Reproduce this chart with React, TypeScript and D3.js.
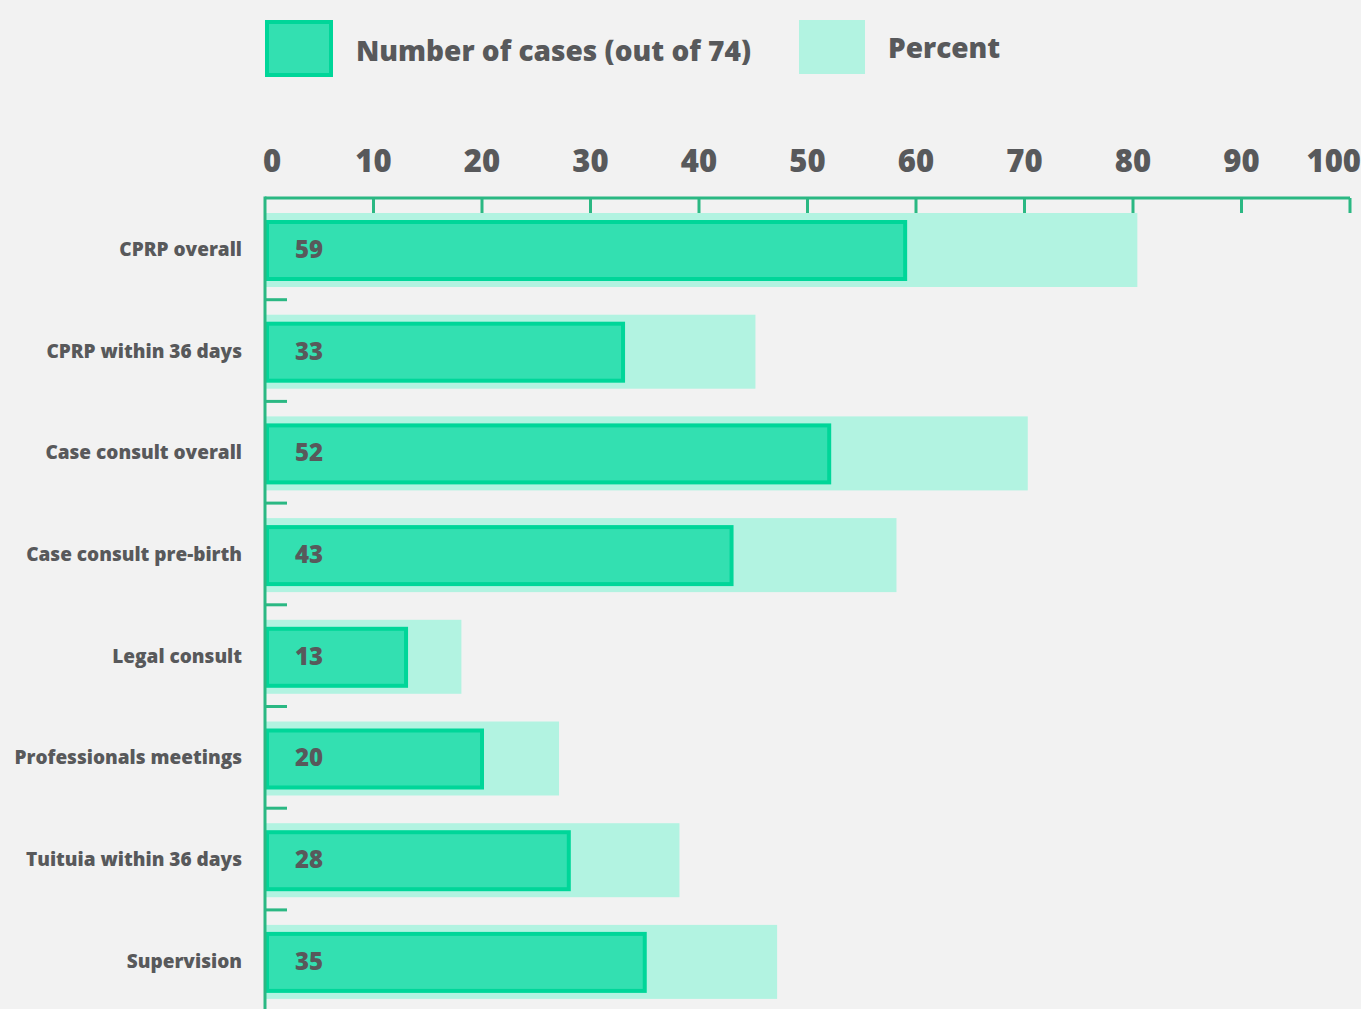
import React, { useEffect } from "react";
import * as d3 from "d3";

const categories = [
  "CPRP overall",
  "CPRP within 36 days",
  "Case consult overall",
  "Case consult pre-birth",
  "Legal consult",
  "Professionals meetings",
  "Tuituia within 36 days",
  "Supervision",
];
const caseCounts = [59, 33, 52, 43, 13, 20, 28, 35];
const percents = [80.4, 45.2, 70.3, 58.2, 18.1, 27.1, 38.2, 47.2];
const tickValues = [0, 10, 20, 30, 40, 50, 60, 70, 80, 90, 100];
const legendLabels = ["Number of cases (out of 74)", "Percent"];

const COLORS = {
  bg: "#f2f2f2",
  axis: "#2bb883",
  countFill: "#33e0b1",
  countStroke: "#00d699",
  percent: "#b2f3e1",
  text: "#58595b",
};

const FONT = "'Open Sans', Lato, sans-serif";

const App = () => {
  useEffect(() => {
    document.body.style.margin = "0";
    document.body.style.background = COLORS.bg;
  }, []);

  const width = 1361;
  const height = 1009;
  const margin = { top: 198, left: 265, right: 11 };

  const x = d3.scaleLinear().domain([0, 100]).range([margin.left, width - margin.right]);
  const y = d3
    .scaleBand<string>()
    .domain(categories)
    .range([margin.top, margin.top + 101.7 * categories.length]);
  const step = y.step();

  return (
    <svg width={width} height={height} style={{ display: "block", background: COLORS.bg }}>
      {/* legend */}
      <g fontFamily={FONT} fontWeight={800} fill={COLORS.text}>
        <rect x={267} y={22} width={64} height={53} fill={COLORS.countFill} stroke={COLORS.countStroke} strokeWidth={4} />
        <text x={356} y={61} fontSize={28}>{legendLabels[0]}</text>
        <rect x={799} y={20} width={66} height={54} fill={COLORS.percent} />
        <text x={888} y={58} fontSize={28}>{legendLabels[1]}</text>
      </g>

      {/* bars */}
      {categories.map((c, i) => {
        const top = y(c) as number;
        return (
          <g key={c}>
            <rect x={x(0)} y={top + 15} width={x(percents[i]) - x(0)} height={74} fill={COLORS.percent} />
            <rect
              x={x(0) + 2}
              y={top + 24}
              width={x(caseCounts[i]) - x(0) - 2}
              height={57}
              fill={COLORS.countFill}
              stroke={COLORS.countStroke}
              strokeWidth={4}
            />
            <text
              x={x(0) + 30}
              y={top + step / 2 + 9}
              fontFamily={FONT}
              fontWeight={800}
              fontSize={24}
              fill={COLORS.text}
            >
              {caseCounts[i]}
            </text>
            <text
              x={242}
              y={top + step / 2 + 7}
              textAnchor="end"
              fontFamily={FONT}
              fontWeight={800}
              fontSize={19}
              fill={COLORS.text}
            >
              {c}
            </text>
            {i > 0 && (
              <line x1={x(0)} x2={x(0) + 22} y1={top} y2={top} stroke={COLORS.axis} strokeWidth={3} />
            )}
          </g>
        );
      })}

      {/* top axis */}
      <g>
        <line x1={x(0)} x2={x(100)} y1={margin.top} y2={margin.top} stroke={COLORS.axis} strokeWidth={3} />
        <line x1={x(0)} x2={x(0)} y1={margin.top - 1.5} y2={height} stroke={COLORS.axis} strokeWidth={3} />
        {tickValues.slice(1).map((t) => (
          <line key={t} x1={x(t)} x2={x(t)} y1={margin.top} y2={margin.top + 15} stroke={COLORS.axis} strokeWidth={3} />
        ))}
        {tickValues.map((t, i) => (
          <text
            key={t}
            x={i === 0 ? x(t) - 2 : i === tickValues.length - 1 ? width : x(t)}
            y={172}
            textAnchor={i === 0 ? "start" : i === tickValues.length - 1 ? "end" : "middle"}
            fontFamily={FONT}
            fontWeight={800}
            fontSize={31}
            fill={COLORS.text}
          >
            {t}
          </text>
        ))}
      </g>
    </svg>
  );
};

export default App;
